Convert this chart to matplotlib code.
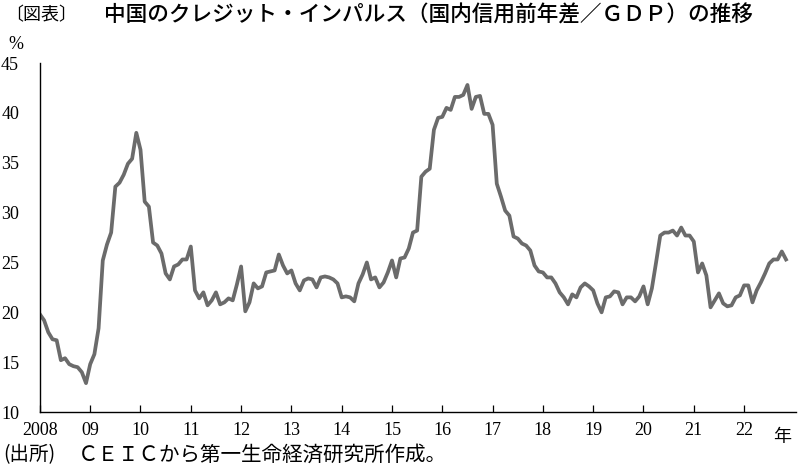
import numpy as np
import matplotlib.pyplot as plt

plt.rcParams['font.family'] = ['Liberation Serif', 'Noto Sans CJK JP']

# monthly values, Jan 2008 .. Nov 2022 (%)
v2008 = [19.8, 19.2, 18.0, 17.3, 17.2, 15.2, 15.4, 14.8, 14.6, 14.5, 14.0, 12.9]
v2009 = [14.8, 15.8, 18.4, 25.2, 26.8, 28.0, 32.6, 33.0, 33.8, 34.9, 35.4, 38.0]
v2010 = [36.3, 31.1, 30.6, 27.0, 26.7, 25.9, 23.9, 23.3, 24.6, 24.8, 25.3, 25.3]
v2011 = [26.6, 22.2, 21.4, 22.0, 20.7, 21.2, 22.0, 20.8, 21.0, 21.4, 21.2, 22.8]
v2012 = [24.6, 20.1, 21.0, 22.9, 22.4, 22.6, 24.0, 24.1, 24.2, 25.8, 24.7, 23.9]
v2013 = [24.2, 22.9, 22.2, 23.2, 23.4, 23.3, 22.5, 23.5, 23.6, 23.5, 23.3, 22.9]
v2014 = [21.5, 21.6, 21.5, 21.1, 22.9, 23.8, 25.0, 23.3, 23.5, 22.5, 23.0, 24.0]
v2015 = [25.2, 23.5, 25.4, 25.5, 26.4, 28.0, 28.2, 33.6, 34.1, 34.4, 38.3, 39.5]
v2016 = [39.6, 40.5, 40.3, 41.6, 41.6, 41.8, 42.8, 40.4, 41.6, 41.7, 39.9, 39.9]
v2017 = [38.8, 32.9, 31.6, 30.2, 29.7, 27.6, 27.4, 26.9, 26.7, 26.2, 24.7, 24.1]
v2018 = [24.0, 23.5, 23.5, 22.9, 22.0, 21.5, 20.8, 21.8, 21.5, 22.5, 22.9, 22.6]
v2019 = [22.2, 20.9, 20.0, 21.5, 21.6, 22.1, 22.0, 20.8, 21.5, 21.5, 21.1, 21.6]
v2020 = [22.6, 20.8, 22.4, 25.0, 27.7, 28.0, 28.0, 28.2, 27.7, 28.5, 27.7, 27.7]
v2021 = [27.1, 24.0, 24.9, 23.7, 20.5, 21.2, 21.9, 20.9, 20.6, 20.7, 21.5, 21.7]
v2022 = [22.7, 22.7, 21.0, 22.2, 23.0, 23.9, 24.9, 25.3, 25.3, 26.1, 25.3]

values = (v2008 + v2009 + v2010 + v2011 + v2012 + v2013 + v2014 + v2015
          + v2016 + v2017 + v2018 + v2019 + v2020 + v2021 + v2022)
years = list(range(2008, 2023))
year_labels = ['2008', '09', '10', '11', '12', '13', '14', '15', '16', '17',
               '18', '19', '20', '21', '22']
y_ticks = [10, 15, 20, 25, 30, 35, 40, 45]

x = 2008 + np.arange(len(values)) / 12.0

fig = plt.figure(figsize=(7.98, 4.72), dpi=100)
ax = fig.add_axes([0.050, 0.127, 0.948, 0.7395])
ax.plot(x, values, color='#6b6b6b', lw=2.7, solid_joinstyle='round')

ax.set_xlim(2008, 2023.04)
ax.set_ylim(10, 45)
ax.set_xticks(years)
ax.set_xticklabels(year_labels)
ax.set_yticks(y_ticks)
ax.set_yticks([45], minor=True)
ax.tick_params(axis='x', direction='in', length=5, width=0.9, pad=7, labelsize=13)
ax.tick_params(axis='y', which='major', length=0, pad=15, labelsize=13)
ax.tick_params(axis='y', which='minor', direction='in', length=5, width=0.9)
for s in ['top', 'right']:
    ax.spines[s].set_visible(False)
for s in ['left', 'bottom']:
    ax.spines[s].set_linewidth(1.0)

ax.text(2022.75, -0.045, '年', transform=ax.get_xaxis_transform(),
        ha='center', va='top', fontsize=13, family=['Noto Sans CJK JP'])

fig.text(0.006, 0.968, '〔図表〕', ha='left', va='center', fontsize=13,
         family=['Noto Sans CJK JP'])
fig.text(0.130, 0.968, '中国のクレジット・インパルス（国内信用前年差／ＧＤＰ）の推移',
         ha='left', va='center', fontsize=15.6, family=['Noto Sans CJK JP'],
         fontweight='medium')
fig.text(0.010, 0.905, '%', ha='left', va='center', fontsize=13)
fig.text(0.004, 0.036, '(出所)', ha='left', va='center', fontsize=14,
         family=['Noto Sans CJK JP'])
fig.text(0.098, 0.036, 'ＣＥＩＣから第一生命経済研究所作成。', ha='left',
         va='center', fontsize=14.8, family=['Noto Sans CJK JP'])

fig.savefig('out.png', dpi=100)
